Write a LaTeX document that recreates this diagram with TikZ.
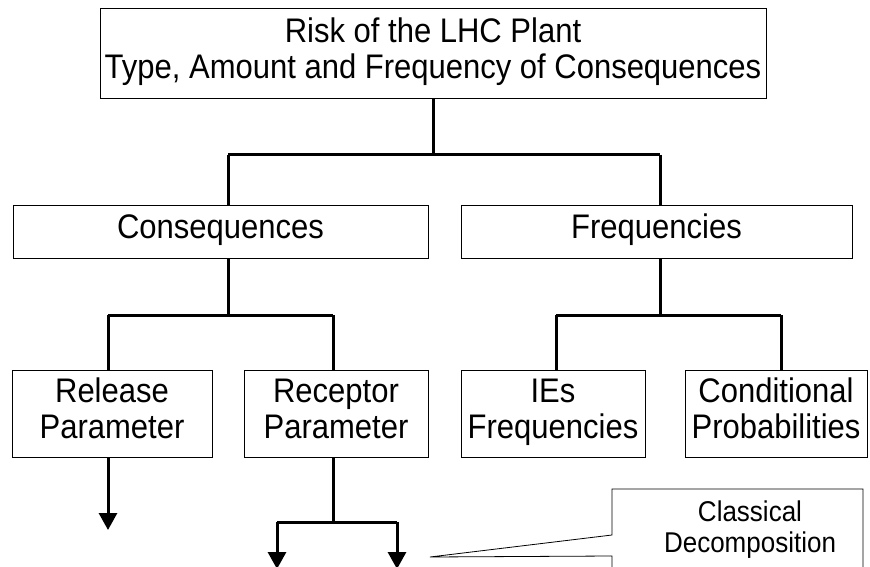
\documentclass[tikz,border=0pt]{standalone}
\usepackage{fontspec}
\usepackage{graphicx}
\setmainfont{Liberation Sans}
\usetikzlibrary{arrows.meta}
% slightly tall lettering, lines centred
\newcommand\talltext[1]{\scalebox{1}[1.1]{\begin{tabular}{@{}c@{}}#1\end{tabular}}}
\begin{document}
\begin{tikzpicture}[x=1pt,y=-1pt,
  box/.style={draw=black,line width=0.8pt,fill=white,inner sep=0pt,align=center,
    font=\fontsize{31}{33}\selectfont},
  link/.style={line width=3pt},
  tip/.style={line width=3pt,-{Triangle[length=17pt,width=18pt]}}]
\useasboundingbox (0,0) rectangle (870,567);
% top level
\node[box,minimum width=666pt,minimum height=90pt] (risk) at (433,53)
  {\talltext{Risk of the LHC Plant\\Type, Amount and Frequency of Consequences}};
% second level
\node[box,minimum width=415pt,minimum height=53pt] (cons) at (220.5,231.5) {\talltext{Consequences}};
\node[box,minimum width=391pt,minimum height=53pt] (freq) at (656.5,231.5) {\talltext{Frequencies}};
% third level
\node[box,minimum width=200pt,minimum height=87pt] (rel) at (112,413.5) {\talltext{Release\\Parameter}};
\node[box,minimum width=184pt,minimum height=87pt] (rec) at (336,413.5) {\talltext{Receptor\\Parameter}};
\node[box,minimum width=184pt,minimum height=87pt] (ies) at (553,413.5) {\talltext{IEs\\Frequencies}};
\node[box,minimum width=182pt,minimum height=87pt] (cond) at (776,413.5) {\talltext{Conditional\\Probabilities}};
% junction points of the tree
\coordinate (jl) at (228,155);
\coordinate (jr) at (660,155);
\coordinate (al) at (108,315);
\coordinate (ar) at (333,315);
\coordinate (bl) at (556,315);
\coordinate (br) at (781,315);
\coordinate (cl) at (277,522);
\coordinate (cr) at (397,522);
% tree connectors
\draw[link] (risk.south) -- (risk.south |- jl);
\draw[link] (jl) -- (jr);
\draw[link] (jl) -- (jl |- cons.north);
\draw[link] (jr) -- (jr |- freq.north);
\draw[link] (cons.south -| jl) -- (jl |- al);
\draw[link] (al) -- (ar);
\draw[link] (al) -- (al |- rel.north);
\draw[link] (ar) -- (ar |- rec.north);
\draw[link] (freq.south -| jr) -- (jr |- bl);
\draw[link] (bl) -- (br);
\draw[link] (bl) -- (bl |- ies.north);
\draw[link] (br) -- (br |- cond.north);
% outgoing arrows
\coordinate (relend) at (108,530);
\draw[tip] (al |- rel.south) -- (relend);
\draw[link] (ar |- rec.south) -- (ar |- cl);
\draw[link] (cl) -- (cr);
\coordinate (clend) at (277,569);
\coordinate (crend) at (397,569);
\draw[tip] (cl) -- (clend);
\draw[tip] (cr) -- (crend);
% callout
\draw[line width=0.8pt,fill=white] (612,489) -- (863,489) -- (863,572) -- (612,572)
  -- (612,556) -- (430,557) coordinate (ptr) -- (612,535) -- cycle;
\node[inner sep=0pt,font=\fontsize{26}{28}\selectfont] (cls) at (750,531)
  {\talltext{Classical\\Decomposition}};
\end{tikzpicture}
\end{document}
